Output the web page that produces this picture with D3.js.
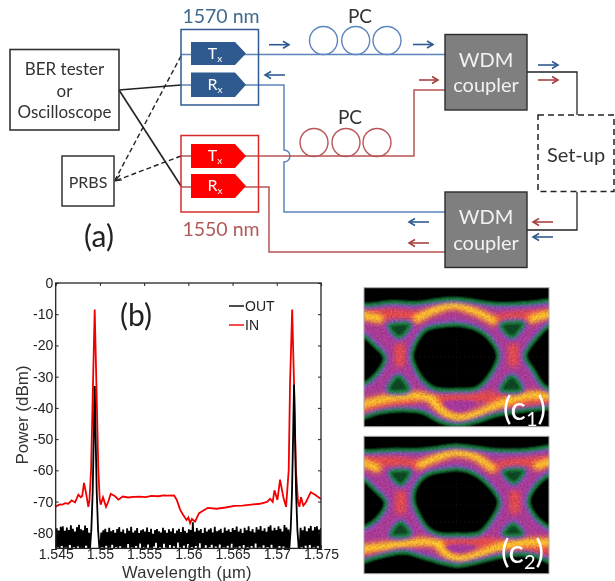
<!DOCTYPE html>
<html>
<head>
<meta charset="utf-8">
<script src="https://cdn.jsdelivr.net/npm/d3@7"></script>
<style>
  html, body { margin: 0; padding: 0; background: #fff; overflow: hidden; }
  svg { display: block; }
  .sch { font-family: Lato, "Open Sans", sans-serif; }
  .plot { font-family: "Liberation Sans", Arial, sans-serif; }
</style>
</head>
<body>
<div id="chart"></div>
<script>
// ---- spectrum (b): wavelength in um, power in dBm ----
var xTickValues = [1.545, 1.55, 1.555, 1.56, 1.565, 1.57, 1.575];
var xTickLabels = ["1.545", "1.55", "1.555", "1.56", "1.565", "1.57", "1.575"];
var yTickValues = [0, -10, -20, -30, -40, -50, -60, -70, -80];

var inWavelength = [1.5450, 1.54525, 1.54549, 1.54575, 1.54606, 1.54643, 1.54681, 1.54719, 1.54756, 1.54783, 1.54800, 1.54820, 1.54843, 1.54869, 1.54882, 1.54900, 1.54922, 1.54941, 1.5496, 1.54982, 1.54998, 1.55009, 1.55035, 1.55069, 1.55096, 1.55122, 1.55171, 1.55209, 1.55258, 1.5532, 1.5538, 1.5545, 1.5552, 1.5558, 1.5566, 1.5572, 1.5576, 1.55838, 1.55868, 1.55906, 1.55935, 1.55962, 1.5598, 1.5600, 1.5602, 1.5604, 1.56076, 1.56121, 1.5622, 1.5632, 1.5642, 1.5652, 1.5661, 1.5671, 1.5681, 1.5689, 1.56924, 1.56954, 1.56974, 1.57007, 1.57037, 1.57074, 1.57105, 1.57135, 1.57150, 1.57174, 1.57195, 1.57216, 1.5724, 1.57255, 1.57274, 1.5730, 1.5733, 1.57384, 1.57433, 1.5750];
var inPower = [-71.7, -71.2, -70.9, -71, -70.5, -70.7, -69.6, -70.3, -67.8, -68.6, -68.2, -64, -67.2, -71.7, -69.5, -59.8, -32, -8.5, -32, -59.8, -69.4, -71, -68.6, -71.7, -69.9, -67.5, -68.3, -69.4, -68.4, -68.7, -68.5, -68.4, -68.6, -68.2, -68.3, -68, -68.1, -68, -69.4, -72.5, -74, -75.2, -75.9, -75.1, -76.9, -75.6, -76.4, -73.7, -72, -72.3, -71.9, -71.4, -71.3, -71, -70.7, -70.1, -69.1, -70.1, -66.4, -69.5, -63, -68.6, -71.7, -59.8, -32, -8.5, -32, -59.8, -70, -71.7, -68.6, -71.3, -70.2, -67, -67.8, -69.2];
inWavelength = inWavelength.slice(0, inPower.length);

// noise floor of the OUT trace, read in three stretches
var noiseLeft = [-85, -78.6, -84.7, -79.3, -85, -78.1, -84.2, -77.9, -85, -79.4, -84.8, -78.3, -85, -79.1, -83.9, -77.6, -85, -78.7, -84.6, -79.6, -85, -78.2, -84.4, -77.4, -85, -78.9, -84.9, -79.2, -85, -77.7, -84.1, -78.5, -85, -80];
var noiseMid = [-85, -79.9, -84.6, -79.2, -85, -78.7, -84.1, -79.8, -85, -78.4, -84.8, -79.5, -83.8, -79.1, -85, -80, -84.5, -78.8, -85, -78.2, -84.3, -79.7, -85, -79, -84.9, -80.2, -85, -78.6, -83.6, -79.4, -85, -78.1, -84.7, -79.9, -85, -79.3, -84.2, -78.5, -85, -80.1, -83.4, -79.2, -85, -78.9, -84.6, -79.6, -85, -78.3, -83.7, -79.8, -84.9, -78.7, -85, -80.3, -84.4, -79.1, -83.2, -78.8, -85, -79.5, -84.6, -79.9, -85, -78.4, -83.5, -79.2, -84.8, -80, -85, -78.9, -83.9, -79.6, -85, -78.6, -84.3, -80.2, -85, -79.3, -83.1, -78.7, -84.7, -79.8, -85, -78.2, -84.1, -79.4, -85, -80, -83.6, -78.9, -85, -79.1, -84.5, -76.6, -85, -79.7, -84.2, -78.5, -85, -79.3, -83.3, -78.8, -84.9, -80.1, -85, -78.4, -84, -79.6, -85, -79, -84.6, -78.6, -83.8, -79.9, -85, -78.1, -84.4, -79.5, -85, -79.2, -83.7, -78.7, -85, -80, -84.7, -78.3, -85, -79.4, -84.1, -78.9, -85, -79.8, -83.5, -78.5, -85, -79.1, -84.8, -78, -85, -79.6, -84.3, -78.7, -85, -80.1, -83.9, -78.4, -85, -79.2, -84.6, -77.9, -85, -79.5, -84.2, -78.8, -85, -79.9, -83.4, -78.2, -85, -79, -84.7, -77.8, -85, -79.4, -84, -78.6, -85, -79.7, -84.5, -78.1, -85, -77.6, -83.8, -79.3, -85, -78.4, -84.9, -79.1, -85, -77.9, -84.2, -78.7, -85, -79.6, -84.4, -77.5, -85, -78.3, -85, -79];
var noiseRight = [-85, -78.4, -84.6, -79.2, -85, -78, -84.1, -79.5, -85, -78.6, -83.9, -77.8, -85, -79.3, -84.7, -78.2, -85, -77.9, -84.3, -79, -85, -78.5];

var peakOneWavelength = [1.54888, 1.54903, 1.54918, 1.5493, 1.54941, 1.54952, 1.54964, 1.54979, 1.54994];
var peakOnePower = [-85, -79, -67, -50, -33, -50, -67, -79, -85];
var peakTwoWavelength = [1.57142, 1.57157, 1.57172, 1.57184, 1.57195, 1.57207, 1.57218, 1.57233, 1.57248];
var peakTwoPower = [-85, -79, -67, -50, -32.5, -50, -67, -79, -85];

// ---- eye diagrams (c1), (c2): outlines in screen-unit time / amplitude ----
var c1Top = [[-30, -40], [-12, 40], [0, 51], [88, 44], [158, 47], [213, 39], [273, 34], [333, 41], [388, 49], [488, 47], [555, 39], [567, 38], [590, -40]];
var c1Bottom = [[-30, 460], [-12, 393], [0, 389], [48, 374], [118, 367], [178, 374], [228, 401], [283, 413], [338, 401], [398, 381], [458, 371], [555, 361], [567, 361], [590, 460]];
var c1Eye = [[253, 111], [188, 124], [158, 159], [143, 204], [153, 239], [183, 284], [213, 304], [278, 307], [338, 302], [373, 269], [403, 204], [378, 154], [338, 124], [288, 111]];
var c1Left = [[-14, 140], [0, 144], [28, 169], [63, 209], [38, 259], [0, 289], [-14, 292]];
var c1Right = [[569, 110], [555, 114], [518, 149], [483, 204], [508, 249], [533, 289], [555, 304], [569, 306]];
var c1Islands = [
  [[76, 114], [137, 111], [106, 148]], [[412, 112], [477, 108], [443, 148]],
  [[103, 266], [132, 306], [74, 307]], [[443, 266], [472, 304], [412, 306]]
];
var c1Warm = [
  [[-10, 75], [100, 80], [170, 85]], [[388, 99], [450, 88], [565, 78]],
  [[108, 182], [108, 222]], [[448, 182], [448, 222]],
  [[208, 334], [300, 326], [408, 329], [565, 340]], [[0, 374], [60, 355], [148, 334]], [[408, 366], [480, 352], [565, 345]]
];
var c1Hot = [
  [[158, 94], [208, 69], [268, 52], [328, 69], [388, 99]], [[-10, 82], [48, 94]], [[503, 94], [565, 76]],
  [[-10, 351], [88, 329], [158, 324], [208, 334]], [[208, 344], [248, 379], [288, 391], [338, 379], [408, 349], [488, 324], [565, 324]]
];
var c1Pocket = [[238, 345], [278, 338], [335, 345], [300, 370], [262, 366]];
var c2Top = [[-30, -40], [-12, 38], [0, 45], [88, 42], [158, 42], [213, 37], [273, 29], [333, 35], [388, 42], [488, 42], [555, 32], [567, 30], [590, -40]];
var c2Bottom = [[-30, 460], [-12, 382], [0, 379], [48, 365], [118, 352], [178, 367], [228, 382], [283, 392], [338, 382], [398, 367], [458, 358], [510, 362], [555, 380], [567, 384], [590, 460]];
var c2Eye = [[248, 102], [188, 117], [153, 157], [148, 197], [163, 237], [193, 282], [223, 297], [278, 299], [343, 295], [373, 267], [406, 199], [373, 147], [328, 112], [288, 100]];
var c2Left = [[-14, 128], [0, 132], [33, 162], [66, 202], [38, 252], [0, 277], [-14, 280]];
var c2Right = [[569, 113], [555, 117], [518, 147], [493, 197], [513, 242], [555, 277], [569, 280]];
var c2Islands = [
  [[79, 110], [137, 108], [110, 146]], [[419, 108], [479, 105], [450, 141]],
  [[110, 262], [137, 296], [82, 299]], [[448, 266], [474, 296], [419, 296]]
];
var c2Warm = [
  [[-10, 72], [100, 78], [168, 87]], [[383, 97], [450, 84], [565, 74]],
  [[110, 180], [110, 220]], [[452, 180], [452, 220]],
  [[228, 322], [288, 315], [398, 325], [565, 330]], [[-10, 358], [88, 337]], [[418, 345], [480, 345], [565, 345]]
];
var c2Hot = [
  [[168, 87], [218, 65], [273, 49], [328, 59], [383, 97]], [[-10, 78], [40, 97]], [[520, 90], [565, 76]],
  [[-10, 342], [88, 330], [178, 320], [228, 325]], [[223, 332], [253, 362], [288, 372], [348, 357], [418, 332], [488, 322], [565, 322]]
];
var c2Pocket = [[245, 335], [285, 328], [335, 336], [300, 350], [265, 348]];

var svg = d3.select("#chart").append("svg").attr("width", 615).attr("height", 581);
var defs = svg.append("defs");
function blurFilter(id, dev) {
  defs.append("filter").attr("id", id)
    .attr("x", "-20%").attr("y", "-20%").attr("width", "140%").attr("height", "140%")
    .append("feGaussianBlur").attr("stdDeviation", dev);
}
blurFilter("soft", 0.45);
blurFilter("glow", 2.6);
blurFilter("edge", 1.1);
blurFilter("halo", 2.2);

// grainy density look of the sampling scope
var grain = defs.append("filter").attr("id", "grain").attr("color-interpolation-filters", "sRGB")
  .attr("x", "0").attr("y", "0").attr("width", "100%").attr("height", "100%");
grain.append("feTurbulence").attr("type", "fractalNoise").attr("baseFrequency", 0.55).attr("numOctaves", 2).attr("seed", 4).attr("result", "n");
grain.append("feColorMatrix").attr("in", "n").attr("type", "matrix")
  .attr("values", "1 0 0 0 0  1 0 0 0 0  1 0 0 0 0  0 0 0 0 1").attr("result", "grey");
grain.append("feComposite").attr("in", "SourceGraphic").attr("in2", "grey").attr("operator", "arithmetic")
  .attr("k1", 0.45).attr("k2", 0.78).attr("k3", 0).attr("k4", 0);

var page = svg.append("g").attr("filter", "url(#soft)");

// ---- schematic (a) ----
var blue = "#5b85bd", darkBlue = "#2f5a8f", wine = "#b85456", ink = "#333";
var sch = page.append("g").attr("class", "sch").attr("fill", "none");

function box(x, y, w, h, color, width, fill) {
  return sch.append("rect").attr("x", x).attr("y", y).attr("width", w).attr("height", h)
    .attr("stroke", color).attr("stroke-width", width).attr("fill", fill || "none");
}
function wire(d, color, width, dash) {
  var p = sch.append("path").attr("d", d).attr("stroke", color).attr("stroke-width", width || 1.5);
  if (dash) p.attr("stroke-dasharray", dash);
  return p;
}
function label(x, y, txt, size, color, anchor) {
  return sch.append("text").attr("x", x).attr("y", y).attr("text-anchor", anchor || "middle")
    .attr("font-size", size).attr("fill", color || ink).attr("stroke", "none").text(txt);
}
function arrow(x0, x1, y, color) {
  var dir = x1 > x0 ? 1 : -1;
  wire("M" + x0 + "," + y + "H" + x1, color, 1.6);
  wire("M" + (x1 - dir * 6) + "," + (y - 3.5) + "L" + x1 + "," + y + "L" + (x1 - dir * 6) + "," + (y + 3.5), color, 1.6);
}
function module(y, h, fill, name) {
  sch.append("path").attr("fill", fill)
    .attr("d", "M191," + y + "H235L246," + (y + h / 2) + "L235," + (y + h) + "H191Z");
  var t = label(215, y + h / 2 + 5, name, 16, "#fff");
  t.append("tspan").attr("font-size", 10).attr("dy", 3).text("x");
}

// signal wires first so the boxes sit on top
wire("M181,54.5H445", blue);
wire("M181,85H284V150a6,6 0 0 1 0,12V212H445", blue);
wire("M181,156H414V90H445", wine);
wire("M181,187H269V252H445", wine);
wire("M527,72H577V115", "#222", 1.3);
wire("M577,192V230H527", "#222", 1.3);
wire("M119,90L181,85", "#222", 1.6);
wire("M119,90L181,186", "#222", 1.6);
wire("M181,56L115,180", "#222", 1.4, "5,3");
wire("M181,156L115,181", "#222", 1.4, "5,3");
wire("M120,175L115,181L122,180", "#222", 1.2);

box(10, 49.5, 109, 80.5, ink, 1.6);
label(64.5, 75, "BER tester", 17);
label(64.5, 97, "or", 17);
label(64.5, 118, "Oscilloscope", 17);
box(62, 156, 52, 50, ink, 1.5);
label(88, 188, "PRBS", 16);
label(99, 247, "(a)", 30, "#222");

box(181, 29.5, 77.5, 75.5, darkBlue, 1.5);
label(221, 23, "1570 nm", 19.5, "#43698f");
module(42, 23, darkBlue, "T");
module(72.5, 24.5, darkBlue, "R");
box(181, 135.5, 77.5, 76.5, "#d62b2b", 1.5);
label(221, 236, "1550 nm", 19.5, "#b25a5a");
module(144, 24, "#ff0000", "T");
module(174, 24, "#ff0000", "R");

[323.5, 355.7, 387].forEach(function(cx) {
  sch.append("circle").attr("cx", cx).attr("cy", 40.5).attr("r", 14).attr("stroke", blue).attr("stroke-width", 1.4);
});
[314, 346, 377].forEach(function(cx) {
  sch.append("circle").attr("cx", cx).attr("cy", 142.5).attr("r", 14).attr("stroke", wine).attr("stroke-width", 1.4);
});
label(360, 23, "PC", 19);
label(350, 124, "PC", 19);

arrow(269, 289, 44.7, darkBlue);
arrow(285, 265, 75, darkBlue);
arrow(413, 433, 44.5, darkBlue);
arrow(419, 438, 80, "#a8413f");
arrow(538, 558, 65, darkBlue);
arrow(538, 558, 80, "#a8413f");
arrow(429, 409, 222, darkBlue);
arrow(429, 409, 243, "#a8413f");
arrow(553, 533, 222, "#a8413f");
arrow(553, 533, 237, darkBlue);

[[34.5, 67, 92], [192, 224, 250]].forEach(function(c) {
  box(445, c[0], 82, 75.5, "#2b2b2b", 1.4, "#7f7f7f");
  label(486, c[1], "WDM", 20, "#f2f2f2");
  label(486, c[2], "coupler", 20, "#f2f2f2");
});
box(538, 115, 76, 76.5, "#222", 1.5).attr("stroke-dasharray", "6,4");
label(576, 162, "Set-up", 20);

// ---- spectrum (b) ----
var margin = { left: 55.7, right: 321, top: 283, bottom: 548.4 };
var xScale = d3.scaleLinear().domain([1.545, 1.575]).range([margin.left, margin.right]);
var yScale = d3.scaleLinear().domain([0, -85]).range([margin.top, margin.bottom]);

defs.append("clipPath").attr("id", "plotClip").append("rect")
  .attr("x", margin.left).attr("y", margin.top)
  .attr("width", margin.right - margin.left).attr("height", margin.bottom - margin.top);

function stretch(values, from, to) {
  var idx = d3.scaleLinear().domain([0, values.length - 1]).range([from, to]);
  return values.map(function(v, i) { return [idx(i), v]; });
}
function zipped(w, p) { return w.map(function(v, i) { return [v, p[i]]; }); }

var outTrace = stretch(noiseLeft, 1.545, 1.54878)
  .concat(zipped(peakOneWavelength, peakOnePower))
  .concat(stretch(noiseMid, 1.55004, 1.57132))
  .concat(zipped(peakTwoWavelength, peakTwoPower))
  .concat(stretch(noiseRight, 1.57258, 1.575));
var inTrace = zipped(inWavelength, inPower);

var line = d3.line().x(function(d) { return xScale(d[0]); }).y(function(d) { return yScale(d[1]); });
var plot = page.append("g").attr("class", "plot");
var traces = plot.append("g").attr("clip-path", "url(#plotClip)").attr("fill", "none");
traces.append("path").datum(inTrace).attr("d", line).attr("stroke", "#f00000").attr("stroke-width", 1.8);
traces.append("path").datum(outTrace).attr("d", line).attr("stroke", "#000").attr("stroke-width", 1.8);

function styleAxis(g) {
  g.selectAll("path").attr("stroke", "none");
  g.selectAll("line").attr("stroke", "#222").attr("stroke-width", 1);
  g.selectAll("text").attr("font-size", 14).attr("fill", "#222").attr("font-family", "Liberation Sans, Arial, sans-serif");
}
plot.append("g").attr("transform", "translate(0," + margin.bottom + ")")
  .call(d3.axisBottom(xScale).tickValues(xTickValues).tickFormat(function(d, i) { return xTickLabels[i]; }).tickSize(-3).tickPadding(1))
  .call(styleAxis);
plot.append("g").attr("transform", "translate(0," + margin.top + ")")
  .call(d3.axisTop(xScale).tickValues(xTickValues).tickFormat("").tickSize(-3))
  .call(styleAxis);
plot.append("g").attr("transform", "translate(" + margin.left + ",0)")
  .call(d3.axisLeft(yScale).tickValues(yTickValues).tickFormat(function(d) { return d; }).tickSize(-3).tickPadding(2.5))
  .call(styleAxis);
plot.append("g").attr("transform", "translate(" + margin.right + ",0)")
  .call(d3.axisRight(yScale).tickValues(yTickValues).tickFormat("").tickSize(-3))
  .call(styleAxis);
plot.append("rect").attr("x", margin.left).attr("y", margin.top)
  .attr("width", margin.right - margin.left).attr("height", margin.bottom - margin.top)
  .attr("fill", "none").attr("stroke", "#222").attr("stroke-width", 1.3);

plot.append("text").attr("transform", "translate(28,415) rotate(-90)").attr("text-anchor", "middle")
  .attr("font-size", 17).attr("fill", "#333").text("Power (dBm)");
plot.append("text").attr("x", 187).attr("y", 577.5).attr("text-anchor", "middle")
  .attr("font-size", 16.5).attr("letter-spacing", 0.3).attr("fill", "#333").text("Wavelength (µm)");
plot.append("text").attr("x", 136).attr("y", 326).attr("text-anchor", "middle")
  .attr("font-size", 30).attr("fill", "#222").attr("font-family", "Lato, sans-serif").text("(b)");

var legendNames = ["OUT", "IN"], legendColors = ["#000", "#f00000"];
legendNames.forEach(function(name, i) {
  var y = 306 + i * 19;
  plot.append("line").attr("x1", 229).attr("x2", 244).attr("y1", y).attr("y2", y)
    .attr("stroke", legendColors[i]).attr("stroke-width", 1.4);
  plot.append("text").attr("x", 245).attr("y", y + 5).attr("font-size", 14).attr("fill", "#222").text(name);
});

// ---- eye diagrams (c) ----
function drawEye(id, top, height, outlines, subscript, labelX, labelY) {
  var ex = d3.scaleLinear().domain([0, 555]).range([364, 549]);
  var ey = d3.scaleLinear().domain([0, 417]).range([top, top + height]);
  var open = d3.line().x(function(d) { return ex(d[0]); }).y(function(d) { return ey(d[1]); }).curve(d3.curveCatmullRom);
  var shut = d3.line().x(function(d) { return ex(d[0]); }).y(function(d) { return ey(d[1]); }).curve(d3.curveCatmullRomClosed);

  defs.append("clipPath").attr("id", id).append("rect").attr("x", 364).attr("y", top).attr("width", 185).attr("height", height);
  var clipped = page.append("g").attr("clip-path", "url(#" + id + ")");
  var g = clipped.append("g").attr("filter", "url(#grain)");
  g.append("rect").attr("x", 360).attr("y", top - 4).attr("width", 193).attr("height", height + 8).attr("fill", "#a93a93");

  // warm rails
  var rails = g.append("g").attr("filter", "url(#glow)").attr("fill", "none").attr("stroke-linecap", "round");
  outlines.warm.forEach(function(d) { rails.append("path").attr("d", open(d)).attr("stroke", "#e0484e").attr("stroke-width", 11); });
  outlines.hot.forEach(function(d) { rails.append("path").attr("d", open(d)).attr("stroke", "#f4772a").attr("stroke-width", 10); });
  outlines.hot.forEach(function(d) { rails.append("path").attr("d", open(d)).attr("stroke", "#ffd92a").attr("stroke-width", 4.5); });
  g.append("path").attr("d", shut(outlines.pocket)).attr("fill", "#a4399a").attr("filter", "url(#edge)");

  // holes with the blue / green rim of the low-density edge
  var holes = [outlines.top, outlines.bottom, outlines.left, outlines.right, outlines.eye];
  var halo = g.append("g").attr("filter", "url(#halo)");
  holes.concat(outlines.islands).forEach(function(d) {
    halo.append("path").attr("d", shut(d)).attr("fill", "none").attr("stroke", "#6a5cc0").attr("stroke-width", 7);
  });
  var rim = g.append("g").attr("filter", "url(#edge)");
  holes.forEach(function(d) {
    rim.append("path").attr("d", shut(d)).attr("fill", "#000").attr("stroke", "#1d7f40").attr("stroke-width", 3);
  });
  outlines.islands.forEach(function(d) {
    rim.append("path").attr("d", shut(d)).attr("fill", "#0e4524").attr("stroke", "#1d7f40").attr("stroke-width", 3);
  });

  // faint graticule
  d3.range(1, 10).forEach(function(i) {
    clipped.append("line").attr("x1", ex(i * 55.5)).attr("x2", ex(i * 55.5)).attr("y1", top).attr("y2", top + height)
      .attr("stroke", "#fff").attr("stroke-opacity", 0.06).attr("stroke-dasharray", "1,3");
  });
  d3.range(1, 8).forEach(function(i) {
    clipped.append("line").attr("x1", 364).attr("x2", 549).attr("y1", ey(i * 52)).attr("y2", ey(i * 52))
      .attr("stroke", "#fff").attr("stroke-opacity", 0.06).attr("stroke-dasharray", "1,3");
  });
  page.append("rect").attr("x", 364).attr("y", top).attr("width", 185).attr("height", height)
    .attr("fill", "none").attr("stroke", "#aaa").attr("stroke-width", 1);

  var t = page.append("text").attr("x", labelX).attr("y", labelY).attr("font-family", "Lato, sans-serif")
    .attr("font-size", 32).attr("fill", "#fff").text("(c");
  t.append("tspan").attr("font-size", 20).attr("dy", 6).text(subscript);
  t.append("tspan").attr("dy", -6).text(")");
}

drawEye("eyeOne", 287.7, 139, { top: c1Top, bottom: c1Bottom, eye: c1Eye, left: c1Left, right: c1Right, islands: c1Islands, warm: c1Warm, hot: c1Hot, pocket: c1Pocket }, "1", 503, 420);
drawEye("eyeTwo", 436.3, 137.4, { top: c2Top, bottom: c2Bottom, eye: c2Eye, left: c2Left, right: c2Right, islands: c2Islands, warm: c2Warm, hot: c2Hot, pocket: c2Pocket }, "2", 501, 563);
</script>
</body>
</html>
